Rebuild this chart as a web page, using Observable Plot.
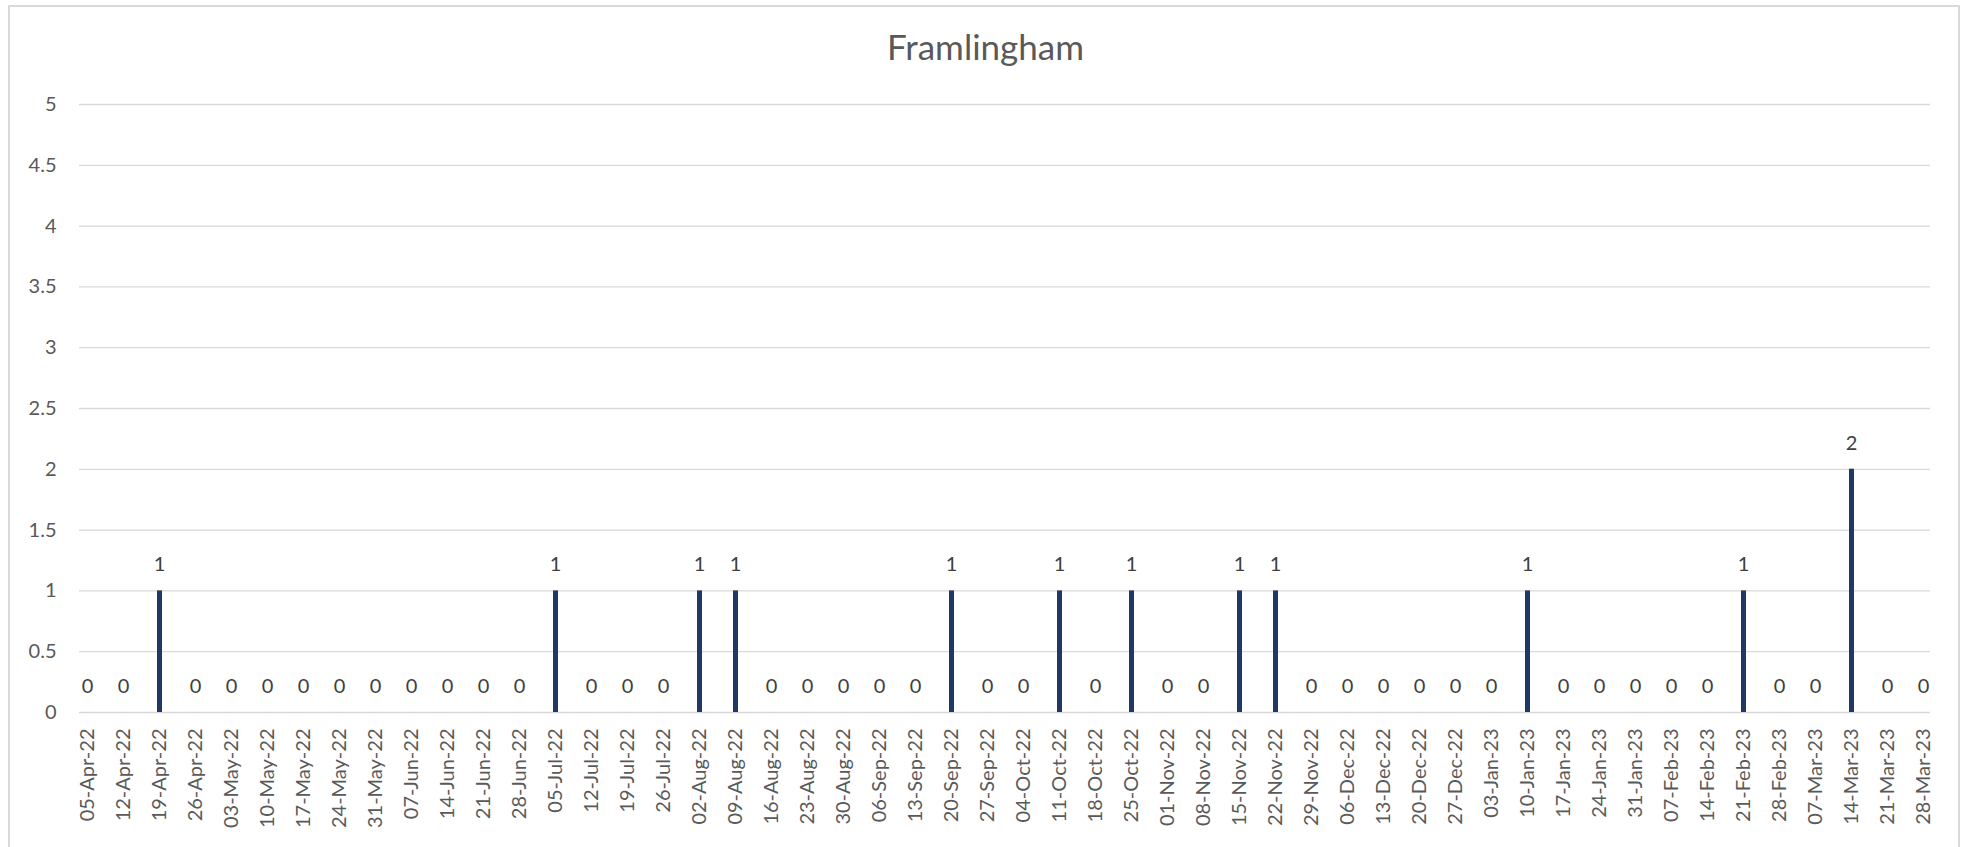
<!DOCTYPE html>
<html>
<head>
<meta charset="utf-8">
<script src="https://cdn.jsdelivr.net/npm/d3@7"></script>
<script src="https://cdn.jsdelivr.net/npm/@observablehq/plot@0.6"></script>
<style>
  html, body { margin: 0; padding: 0; background: #fff; overflow: hidden; }
  #wrap { position: relative; width: 1971px; height: 847px; }
  #border { position: absolute; left: 8px; top: 5px; width: 1952px; height: 900px; border: 2px solid #D9D9D9; box-sizing: border-box; }
  #title { position: absolute; left: 0; top: 24px; width: 1971px; text-align: center; font-family: Lato, sans-serif; font-size: 35px; color: #595959; line-height: 44px; }
  #chart { position: absolute; left: 0; top: 0; }
</style>
</head>
<body>
<div id="wrap">
  <div id="border"></div>
  <div id="chart"></div>
  <div id="title">Framlingham</div>
</div>
<script>
const weeks = ["05-Apr-22","12-Apr-22","19-Apr-22","26-Apr-22","03-May-22","10-May-22","17-May-22","24-May-22","31-May-22","07-Jun-22","14-Jun-22","21-Jun-22","28-Jun-22","05-Jul-22","12-Jul-22","19-Jul-22","26-Jul-22","02-Aug-22","09-Aug-22","16-Aug-22","23-Aug-22","30-Aug-22","06-Sep-22","13-Sep-22","20-Sep-22","27-Sep-22","04-Oct-22","11-Oct-22","18-Oct-22","25-Oct-22","01-Nov-22","08-Nov-22","15-Nov-22","22-Nov-22","29-Nov-22","06-Dec-22","13-Dec-22","20-Dec-22","27-Dec-22","03-Jan-23","10-Jan-23","17-Jan-23","24-Jan-23","31-Jan-23","07-Feb-23","14-Feb-23","21-Feb-23","28-Feb-23","07-Mar-23","14-Mar-23","21-Mar-23","28-Mar-23"];
const counts = [0,0,1,0,0,0,0,0,0,0,0,0,0,1,0,0,0,1,1,0,0,0,0,0,1,0,0,1,0,1,0,0,1,1,0,0,0,0,0,0,1,0,0,0,0,0,1,0,0,2,0,0];
const yTicks = [0,0.5,1,1.5,2,2.5,3,3.5,4,4.5,5];

const data = weeks.map((w, i) => ({week: w, count: counts[i]}));

const chart = Plot.plot({
  width: 1971,
  height: 847,
  marginLeft: 79,
  marginRight: 41,
  marginTop: 104,
  marginBottom: 135,
  style: {fontFamily: "Lato, sans-serif", fontSize: "20px", color: "#595959", background: "transparent"},
  x: {type: "point", domain: weeks, padding: 0.1, label: null},
  y: {domain: [0, 5], label: null},
  marks: [
    Plot.ruleY(yTicks, {stroke: "#D9D9D9", strokeWidth: 1.3}),
    Plot.ruleX(data.filter(d => d.count > 0), {x: "week", y1: 0, y2: "count", stroke: "#203864", strokeWidth: 5}),
    Plot.text(data, {x: "week", y: "count", text: d => String(d.count), dy: -26, fill: "#404040", fontSize: 20}),
    Plot.axisY({ticks: yTicks, tickSize: 0, tickPadding: 23, tickFormat: d => String(d), fontSize: 20, label: null}),
    Plot.axisX({tickRotate: -90, tickSize: 0, tickPadding: 16, fontSize: 20, label: null})
  ]
});
document.getElementById("chart").appendChild(chart);
</script>
</body>
</html>
